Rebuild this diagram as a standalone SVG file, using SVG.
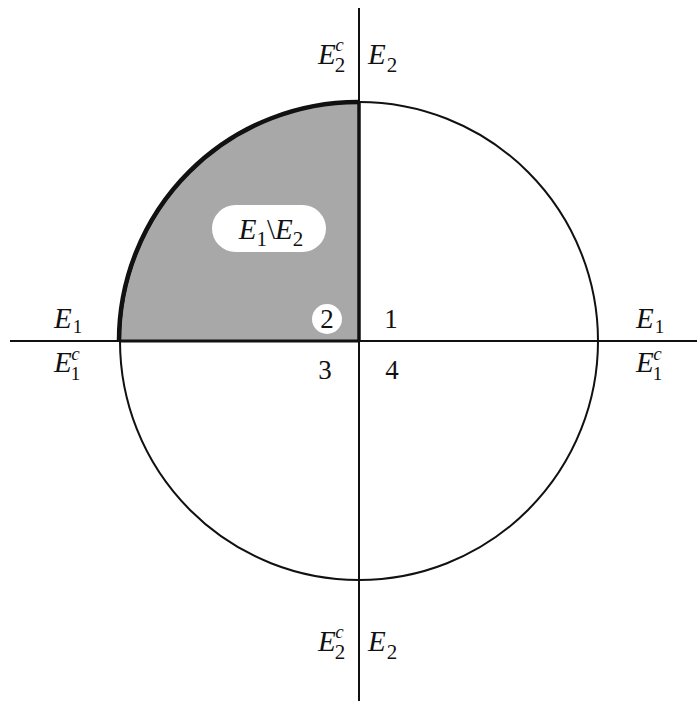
<svg xmlns="http://www.w3.org/2000/svg" width="697" height="701" viewBox="0 0 697 701">
<style>
.ln{stroke:#111;fill:none}
.t{font-family:"Liberation Serif","Times New Roman",serif;font-size:29px;fill:#111}
.n{font-family:"Liberation Serif","Times New Roman",serif;font-size:27px;fill:#111}
.i{font-style:italic}
.s{font-size:21px}
.p{font-size:19px}
</style>
<rect width="697" height="701" fill="#fff"/>
<g id="region-E1-minus-E2">
<path d="M119,341 A239,239 0 0 1 359,102 L359,341 Z" fill="#a8a8a8"/>
</g>
<g id="circle">
<circle cx="359" cy="341" r="239" class="ln" stroke-width="2"/>
<path d="M119,341 A239,239 0 0 1 359,102" class="ln" stroke-width="4.5"/>
</g>
<g id="connectors">
<line x1="359" y1="8" x2="359" y2="701" class="ln" stroke-width="2"/>
<line x1="359" y1="102" x2="359" y2="341" class="ln" stroke-width="3.5"/>
<line x1="10" y1="341" x2="697" y2="341" class="ln" stroke-width="2"/>
<line x1="119" y1="341" x2="359" y2="341" class="ln" stroke-width="3"/>
</g>
<g id="label-E1-minus-E2">
<rect x="212" y="205" width="114" height="47" rx="23.5" fill="#fff"/>
<text x="271" y="239" text-anchor="middle" class="t"><tspan class="i">E</tspan><tspan class="s" dy="7">1</tspan><tspan dy="-7">\</tspan><tspan class="i">E</tspan><tspan class="s" dy="7">2</tspan></text>
</g>
<g id="top-labels">
<text x="318" y="64" class="t"><tspan class="i">E</tspan><tspan class="s" dx="-1" dy="8">2</tspan><tspan class="p i" dx="-10" dy="-21">c</tspan></text>
<text x="368" y="64" class="t"><tspan class="i">E</tspan><tspan class="s" dx="1" dy="8">2</tspan></text>
</g>
<g id="bottom-labels">
<text x="318" y="651" class="t"><tspan class="i">E</tspan><tspan class="s" dx="-1" dy="8">2</tspan><tspan class="p i" dx="-10" dy="-21">c</tspan></text>
<text x="368" y="651" class="t"><tspan class="i">E</tspan><tspan class="s" dx="1" dy="8">2</tspan></text>
</g>
<g id="left-labels">
<text x="54" y="328" class="t"><tspan class="i">E</tspan><tspan class="p" dx="1" dy="5">1</tspan></text>
<text x="54" y="372" class="t"><tspan class="i">E</tspan><tspan class="p" dx="-1" dy="8">1</tspan><tspan class="p i" dx="-9" dy="-20">c</tspan></text>
</g>
<g id="right-labels">
<text x="636" y="328" class="t"><tspan class="i">E</tspan><tspan class="p" dx="1" dy="5">1</tspan></text>
<text x="636" y="372" class="t"><tspan class="i">E</tspan><tspan class="p" dx="-1" dy="8">1</tspan><tspan class="p i" dx="-9" dy="-20">c</tspan></text>
</g>
<g id="quadrant-numbers">
<circle cx="327" cy="319" r="15" fill="#fff"/>
<text x="327" y="328" text-anchor="middle" class="n">2</text>
<text x="391" y="328" text-anchor="middle" class="n">1</text>
<text x="325" y="379" text-anchor="middle" class="n">3</text>
<text x="392" y="379" text-anchor="middle" class="n">4</text>
</g>
</svg>
